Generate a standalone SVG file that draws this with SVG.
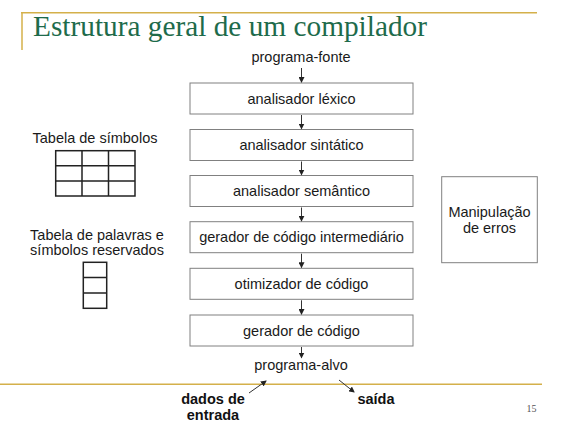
<svg xmlns="http://www.w3.org/2000/svg" width="567" height="427" viewBox="0 0 567 427">
<defs>
<marker id="ah" markerWidth="6" markerHeight="6" refX="5" refY="3" orient="auto" markerUnits="userSpaceOnUse">
<path d="M0,0 L6,3 L0,6 z" fill="#222"/>
</marker>
<style>
.box{fill:#fff;stroke:#808080;stroke-width:1}
.t{font-family:"Liberation Sans",Arial,sans-serif;font-size:14.5px;fill:#1a1a1a;text-anchor:middle}
.b{font-family:"Liberation Sans",Arial,sans-serif;font-size:14.5px;font-weight:bold;fill:#111;text-anchor:middle}
.grid{fill:none;stroke:#222;stroke-width:1.5}
.con{stroke:#333;stroke-width:1;fill:none;marker-end:url(#ah)}
.gold{stroke:#d4b04a;stroke-width:1.5}
</style>
</defs>
<rect width="567" height="427" fill="#fff"/>
<g id="frame">
<line class="gold" x1="21" y1="12.7" x2="537" y2="12.7"/>
<line class="gold" x1="22" y1="12.7" x2="22" y2="50"/>
<line class="gold" x1="0" y1="384.3" x2="542" y2="384.3"/>
<text x="33" y="36" font-family="'Liberation Serif','Times New Roman',serif" font-size="29" fill="#1e6b4b" textLength="394" lengthAdjust="spacingAndGlyphs">Estrutura geral de um compilador</text>
<text x="531.5" y="412" font-family="'Liberation Serif',serif" font-size="10" fill="#555" text-anchor="middle">15</text>
</g>
<g id="programa-fonte"><text class="t" x="301" y="62">programa-fonte</text></g>
<g id="lexico"><rect class="box" x="190" y="83" width="223" height="31"/><text class="t" x="301.5" y="103.5">analisador léxico</text></g>
<g id="sintatico"><rect class="box" x="190" y="129.5" width="223" height="31"/><text class="t" x="301.5" y="150">analisador sintático</text></g>
<g id="semantico"><rect class="box" x="190" y="175.5" width="223" height="31"/><text class="t" x="301.5" y="196">analisador semântico</text></g>
<g id="intermediario"><rect class="box" x="190" y="221.7" width="223" height="31"/><text class="t" x="301.5" y="242.2">gerador de código intermediário</text></g>
<g id="otimizador"><rect class="box" x="190" y="268.3" width="223" height="31"/><text class="t" x="301.5" y="288.8">otimizador de código</text></g>
<g id="gerador"><rect class="box" x="190" y="315" width="223" height="31"/><text class="t" x="301.5" y="335.5">gerador de código</text></g>
<g id="programa-alvo"><text class="t" x="301" y="370">programa-alvo</text></g>
<g id="dados"><text class="b" x="213" y="404">dados de</text><text class="b" x="213" y="420">entrada</text></g>
<g id="saida"><text class="b" x="376" y="404">saída</text></g>
<g id="erros"><rect class="box" x="441.7" y="176.7" width="95.6" height="86"/><text class="t" x="489.5" y="216.5">Manipulação</text><text class="t" x="489.5" y="233">de erros</text></g>
<g id="tabela-simbolos">
<text class="t" x="95" y="143">Tabela de símbolos</text>
<rect class="grid" x="55.7" y="150.7" width="79.3" height="45.3"/>
<path class="grid" d="M82,150.7V196M108.5,150.7V196M55.7,165.8H135M55.7,181H135"/>
</g>
<g id="tabela-palavras">
<text class="t" x="97" y="240">Tabela de palavras e</text>
<text class="t" x="97" y="255">símbolos reservados</text>
<rect class="grid" x="83.3" y="262.3" width="23.4" height="46"/>
<path class="grid" d="M83.3,277.6H106.7M83.3,293H106.7"/>
</g>
<g id="connectors">
<line class="con" x1="301.5" y1="68" x2="301.5" y2="82"/>
<line class="con" x1="301.5" y1="115" x2="301.5" y2="128.5"/>
<line class="con" x1="301.5" y1="161.5" x2="301.5" y2="174.5"/>
<line class="con" x1="301.5" y1="207.5" x2="301.5" y2="220.7"/>
<line class="con" x1="301.5" y1="253.7" x2="301.5" y2="267.3"/>
<line class="con" x1="301.5" y1="300.3" x2="301.5" y2="314"/>
<line class="con" x1="301.5" y1="347" x2="301.5" y2="357.5"/>
<line class="con" x1="249" y1="393" x2="266" y2="381"/>
<line class="con" x1="339" y1="380" x2="354" y2="392"/>
</g>
</svg>
